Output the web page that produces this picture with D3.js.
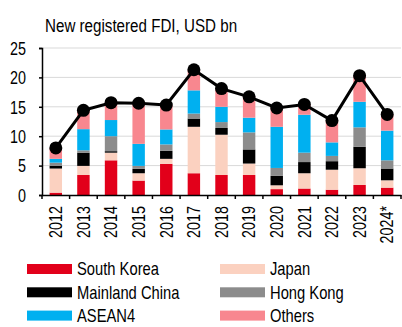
<!DOCTYPE html>
<html>
<head>
<meta charset="utf-8">
<script src="https://cdn.jsdelivr.net/npm/d3@7"></script>
<style>
  body { margin: 0; background: #fff; }
  svg text { font-family: "Liberation Sans", Arial, sans-serif; fill: #000; }
</style>
</head>
<body>
<div id="chart"></div>
<script>
/** Chart data */
var years = ["2012", "2013", "2014", "2015", "2016", "2017", "2018", "2019", "2020", "2021", "2022", "2023", "2024*"];
var seriesNames = ["South Korea", "Japan", "Mainland China", "Hong Kong", "ASEAN4", "Others"];
var southKorea    = [0.4, 3.4, 5.9, 2.45, 5.3, 3.7, 3.4, 3.4, 1.0, 1.1, 0.9, 1.7, 1.25];
var japan         = [4.1, 1.55, 1.3, 1.25, 0.85, 7.9, 6.85, 1.95, 0.65, 2.6, 3.4, 2.85, 1.25];
var mainlandChina = [0.45, 2.25, 0.25, 0.75, 1.35, 1.4, 1.15, 2.4, 1.6, 1.9, 1.45, 3.65, 2.0];
var hongKong      = [0.55, 0.4, 2.55, 0.5, 1.1, 0.85, 1.0, 2.9, 1.35, 1.6, 0.9, 3.3, 1.4];
var asean4        = [0.65, 3.6, 2.75, 3.75, 2.55, 3.95, 2.6, 2.5, 7.0, 6.45, 2.3, 4.35, 5.05];
var others        = [1.85, 3.2, 2.95, 6.95, 4.15, 3.5, 3.1, 3.55, 3.2, 1.75, 3.7, 4.45, 2.75];
var totals        = [8.0, 14.4, 15.7, 15.6, 15.3, 21.3, 18.1, 16.7, 14.8, 15.4, 12.65, 20.3, 13.7];
var yTicks = [0, 5, 10, 15, 20, 25];

var colors = ["#e2001a", "#fbd1c0", "#000000", "#8c8c8c", "#00b0f0", "#f8878f"];
var seriesValues = [southKorea, japan, mainlandChina, hongKong, asean4, others];

var width = 402, height = 327;
var margin = {top: 48, right: 1, bottom: 132, left: 42};
var innerW = width - margin.left - margin.right;
var innerH = height - margin.top - margin.bottom;
/** Horizontal squeeze to mimic a narrow typeface */
var narrow = "scale(0.82,1)";

var svg = d3.select("#chart").append("svg")
  .attr("width", width)
  .attr("height", height);

/** Title */
svg.append("text")
  .attr("transform", "translate(45,32) " + narrow)
  .style("font-size", "18.5px")
  .text("New registered FDI, USD bn");

var g = svg.append("g")
  .attr("transform", "translate(" + margin.left + "," + margin.top + ")");

var x = d3.scaleBand().domain(years).range([0, innerW]).paddingInner(0.55).paddingOuter(0.275);
var y = d3.scaleLinear().domain([0, 25]).range([innerH, 0]);

/** Gridlines */
g.append("g")
  .selectAll("line")
  .data(yTicks.filter(function(d) { return d > 0; }))
  .enter().append("line")
    .attr("x1", 0)
    .attr("x2", innerW)
    .attr("y1", function(d) { return y(d); })
    .attr("y2", function(d) { return y(d); })
    .attr("stroke", "#d9d9d9")
    .attr("stroke-width", 1);

/** Stacked bars */
var table = years.map(function(yr, i) {
  var row = {year: yr};
  seriesNames.forEach(function(s, j) { row[s] = seriesValues[j][i]; });
  return row;
});
var stacked = d3.stack().keys(seriesNames)(table);

g.selectAll(".layer")
  .data(stacked)
  .enter().append("g")
    .attr("class", "layer")
    .attr("fill", function(d, i) { return colors[i]; })
  .selectAll("rect")
  .data(function(d) { return d; })
  .enter().append("rect")
    .attr("x", function(d) { return x(d.data.year); })
    .attr("y", function(d) { return y(d[1]); })
    .attr("width", x.bandwidth())
    .attr("height", function(d) { return y(d[0]) - y(d[1]); });

/** Y axis */
var yAxis = g.append("g")
  .call(d3.axisLeft(y).tickValues(yTicks).tickSize(3));
yAxis.select(".domain").attr("stroke", "#000").attr("stroke-width", 1.5);
yAxis.selectAll(".tick line").attr("stroke", "#000").attr("stroke-width", 1.5);
yAxis.selectAll("text")
  .style("font-size", "17.5px")
  .attr("x", 0)
  .attr("dy", "0.36em")
  .attr("transform", "translate(-16,0) " + narrow);

/** X axis */
var xAxis = g.append("g")
  .attr("transform", "translate(0," + innerH + ")")
  .call(d3.axisBottom(x).tickSize(0));
xAxis.select(".domain").attr("stroke", "#000").attr("stroke-width", 1.5);
xAxis.selectAll(".tick line").remove();
xAxis.selectAll("text")
  .style("font-size", "17.5px")
  .attr("text-anchor", "end")
  .attr("x", 0)
  .attr("y", 0)
  .attr("dy", "0.36em")
  .attr("transform", "rotate(-90) translate(-11,0) " + narrow);

/** Category boundary ticks */
var step = x.step();
xAxis.append("g")
  .selectAll("line")
  .data(d3.range(years.length + 1))
  .enter().append("line")
    .attr("x1", function(i) { return i * step; })
    .attr("x2", function(i) { return i * step; })
    .attr("y1", 0)
    .attr("y2", 4)
    .attr("stroke", "#000")
    .attr("stroke-width", 1.5);

/** Total line */
var line = d3.line()
  .x(function(d, i) { return x(years[i]) + x.bandwidth() / 2; })
  .y(function(d) { return y(d); });

g.append("path")
  .datum(totals)
  .attr("fill", "none")
  .attr("stroke", "#000")
  .attr("stroke-width", 3)
  .attr("d", line);

g.selectAll(".dot")
  .data(totals)
  .enter().append("circle")
    .attr("class", "dot")
    .attr("cx", function(d, i) { return x(years[i]) + x.bandwidth() / 2; })
    .attr("cy", function(d) { return y(d); })
    .attr("r", 6.5)
    .attr("fill", "#000");

/** Legend */
var legend = svg.append("g");
var items = legend.selectAll(".item")
  .data(seriesNames)
  .enter().append("g")
    .attr("class", "item")
    .attr("transform", function(d, i) {
      return "translate(" + (i % 2 == 0 ? 27 : 220) + "," + (264 + Math.floor(i / 2) * 23.3) + ")";
    });
items.append("rect")
  .attr("width", 45)
  .attr("height", 10)
  .attr("fill", function(d, i) { return colors[i]; });
items.append("text")
  .attr("dy", "0.36em")
  .attr("transform", "translate(50,5) " + narrow)
  .style("font-size", "18px")
  .text(function(d) { return d; });
</script>
</body>
</html>
